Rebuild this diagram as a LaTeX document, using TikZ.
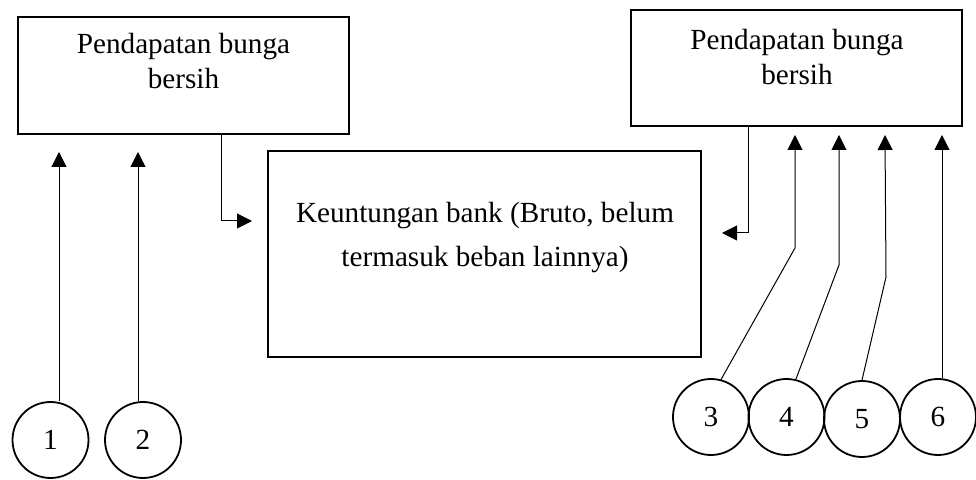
\documentclass[tikz,border=0pt]{standalone}
\usepackage{fontspec}
\setmainfont{Liberation Serif}
\usetikzlibrary{arrows.meta,calc}
\begin{document}
\begin{tikzpicture}[x=0.5pt, y=-0.5pt,
    box/.style 2 args={draw, line width=1pt, inner sep=0pt, minimum width=#1, minimum height=#2},
    txt/.style={align=center, font=\fontsize{14.6}{17.5}\selectfont},
    num/.style={circle, draw, line width=0.9pt, inner sep=0pt, minimum size=38pt, font=\fontsize{14.6}{17.5}\selectfont},
    arr/.style={-{Triangle[length=7.5pt,width=7.5pt]}, line width=0.5pt}]
                  \useasboundingbox (0,0) rectangle (976,480);

                  \node[box={165.5pt}{58.5pt}] (lbox) at (183.5,75.5) {};
                  \node[txt] (ltxt) at (183.5,61) {Pendapatan bunga\\bersih};
                  \node[box={216.5pt}{103pt}] (mbox) at (484.5,254) {};
                  \node[txt, font=\fontsize{14.6}{22}\selectfont] (mtxt) at (485,238) {Keuntungan bank (Bruto, belum\\termasuk beban lainnya)};
                  \node[box={165.5pt}{58pt}] (rbox) at (796.5,68) {};
                  \node[txt] (rtxt) at (797,57) {Pendapatan bunga\\bersih};

                  \node[num] (c1) at (50.5,440) {1};
                  \node[num] (c2) at (143,440) {2};
                  \node[num] (c3) at (711,417) {3};
                  \node[num] (c4) at (786.5,417) {4};
                  \node[num] (c5) at (862,419) {5};
                  \node[num] (c6) at (938,417) {6};

                  \coordinate (inL) at (252,221);
                  \coordinate (inR) at (722,233);
                  \coordinate (t1) at (59,152);
                  \coordinate (t2) at (138,152);
                  \coordinate (t3) at (795,135);
                  \coordinate (t4) at (839,135);
                  \coordinate (t5) at (885,135);
                  \coordinate (t6) at (942,135);

                  \draw[arr] ($(lbox.south)+(37.5,0)$) |- (inL);
                  \draw[arr] ($(rbox.south)+(-48.5,0)$) |- (inR);
                  \draw[arr] (t1 |- c1.north) -- (t1);
                  \draw[arr] (t2 |- c2.north) -- (t2);
                  \draw[arr] (c3.75) -- (795,248) -- (t3);
                  \draw[arr] (c4.76) -- (839,265) -- (t4);
                  \draw[arr] (c5.north) -- (886,277) -- (t5);
                  \draw[arr] (t6 |- c6.north) -- (t6);
                \end{tikzpicture}
\end{document}
